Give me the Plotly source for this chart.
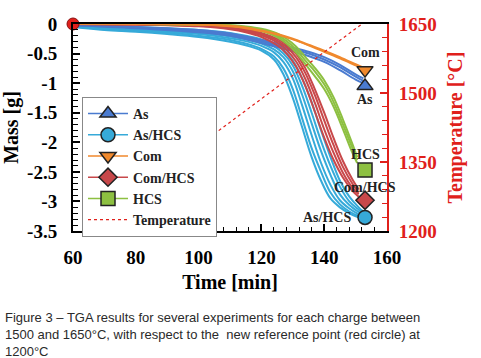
import plotly.graph_objects as go

# ---------------- data ----------------
groups = ["As", "As/HCS", "Com", "Com/HCS", "HCS"]
colors = {"As": "#4a7bd0", "As/HCS": "#36aad9", "Com": "#f0892d",
          "Com/HCS": "#c8484a", "HCS": "#8dc041"}
symbols = {"As": "triangle-up", "As/HCS": "circle", "Com": "triangle-down",
           "Com/HCS": "diamond", "HCS": "square"}

# As/HCS experiments
t_ashcs = [60, 70, 80, 90, 100, 110, 115, 120, 124, 127, 130, 133, 136, 139, 142, 145, 148, 151, 152.5]
ashcs_runs = [
    [-0.05, -0.10, -0.13, -0.17, -0.22, -0.30, -0.36, -0.45, -0.60, -0.85, -1.25, -1.75, -2.25, -2.65, -2.95, -3.10, -3.20, -3.27, -3.30],
    [-0.04, -0.09, -0.12, -0.15, -0.20, -0.27, -0.33, -0.42, -0.55, -0.75, -1.10, -1.60, -2.10, -2.50, -2.85, -3.05, -3.17, -3.25, -3.28],
    [-0.03, -0.07, -0.10, -0.13, -0.17, -0.24, -0.29, -0.37, -0.48, -0.64, -0.92, -1.38, -1.88, -2.35, -2.72, -2.98, -3.12, -3.22, -3.26],
    [-0.02, -0.05, -0.08, -0.11, -0.15, -0.21, -0.26, -0.33, -0.43, -0.56, -0.80, -1.20, -1.68, -2.15, -2.55, -2.88, -3.06, -3.18, -3.23],
    [-0.02, -0.04, -0.06, -0.09, -0.12, -0.18, -0.23, -0.30, -0.38, -0.50, -0.70, -1.05, -1.50, -1.98, -2.40, -2.75, -3.00, -3.14, -3.20],
    [-0.01, -0.03, -0.05, -0.07, -0.10, -0.15, -0.20, -0.26, -0.34, -0.44, -0.62, -0.92, -1.32, -1.80, -2.25, -2.65, -2.92, -3.10, -3.17],
]

# As experiments
t_as = [60, 80, 100, 110, 120, 125, 130, 135, 140, 145, 150, 152.5]
as_runs = [
    [-0.02, -0.07, -0.14, -0.20, -0.32, -0.39, -0.46, -0.54, -0.64, -0.78, -0.94, -1.00],
    [-0.02, -0.06, -0.12, -0.18, -0.29, -0.36, -0.43, -0.50, -0.60, -0.73, -0.89, -0.96],
    [-0.01, -0.05, -0.10, -0.16, -0.27, -0.33, -0.40, -0.47, -0.56, -0.69, -0.85, -0.92],
]

# Com/HCS experiments
t_comhcs = [60, 80, 100, 110, 115, 120, 125, 128, 131, 134, 137, 140, 143, 146, 149, 151]
comhcs_runs = [
    [0, -0.01, -0.04, -0.09, -0.14, -0.22, -0.36, -0.50, -0.72, -1.05, -1.48, -1.92, -2.30, -2.60, -2.82, -2.92],
    [0, -0.01, -0.03, -0.07, -0.12, -0.19, -0.31, -0.44, -0.63, -0.93, -1.33, -1.78, -2.18, -2.52, -2.77, -2.88],
    [0, -0.01, -0.03, -0.06, -0.10, -0.17, -0.28, -0.39, -0.56, -0.83, -1.20, -1.63, -2.05, -2.42, -2.70, -2.85],
    [0, 0.00, -0.02, -0.05, -0.09, -0.15, -0.25, -0.35, -0.50, -0.75, -1.10, -1.50, -1.93, -2.32, -2.63, -2.80],
]

# HCS experiments
t_hcs = [60, 80, 100, 110, 115, 120, 125, 128, 131, 134, 137, 140, 143, 146, 149, 150.5]
hcs_runs = [
    [0, 0, -0.01, -0.03, -0.06, -0.12, -0.22, -0.33, -0.48, -0.68, -0.88, -1.10, -1.40, -1.78, -2.18, -2.35],
    [0, 0, -0.01, -0.02, -0.05, -0.10, -0.19, -0.29, -0.43, -0.62, -0.80, -1.02, -1.32, -1.70, -2.10, -2.30],
    [0, 0, 0.00, -0.02, -0.04, -0.08, -0.16, -0.25, -0.38, -0.56, -0.74, -0.95, -1.24, -1.62, -2.03, -2.25],
]

# Com experiments
t_com = [60, 90, 100, 110, 115, 120, 125, 130, 135, 140, 145, 150, 152.5]
com_runs = [
    [0, 0, -0.01, -0.04, -0.07, -0.12, -0.18, -0.26, -0.36, -0.47, -0.58, -0.70, -0.76],
    [0, 0, -0.01, -0.03, -0.06, -0.11, -0.17, -0.25, -0.35, -0.45, -0.56, -0.68, -0.74],
]

# end markers (time, mass)
end_time = [153, 153, 153, 153, 153]
end_mass = {"As": -1.05, "As/HCS": -3.27, "Com": -0.78, "Com/HCS": -2.98, "HCS": -2.47}

# temperature programme
temp_time = [63.5, 152.0]
temp_vals = [1200, 1650]

# reference point
ref_time = [60]
ref_mass = [0]

# axis ticks
x_ticks = [60, 80, 100, 120, 140, 160]
y_ticks = [0, -0.5, -1, -1.5, -2, -2.5, -3, -3.5]
y_ticktext = ["0", "-0.5", "-1", "-1.5", "-2", "-2.5", "-3", "-3.5"]
t_ticks = [1200, 1350, 1500, 1650]

# labels next to end markers: (text, time, mass)
end_labels = [("Com", 153, -0.49), ("As", 153, -1.28), ("HCS", 153, -2.21),
              ("Com/HCS", 153, -2.77), ("As/HCS", 141, -3.28)]

caption = ["Figure 3 – TGA results for several experiments for each charge between",
           "1500 and 1650°C, with respect to the  new reference point (red circle) at",
           "1200°C"]

# ---------------- figure ----------------
SERIF = "Liberation Serif"
fig = go.Figure()

def add_runs(tlist, runs, name):
    for r in runs:
        fig.add_trace(go.Scatter(x=tlist, y=r, mode="lines", showlegend=False,
                                 line=dict(color=colors[name], width=2, shape="spline"),
                                 hoverinfo="skip"))

add_runs(t_ashcs, ashcs_runs, "As/HCS")
add_runs(t_as, as_runs, "As")
add_runs(t_comhcs, comhcs_runs, "Com/HCS")
add_runs(t_hcs, hcs_runs, "HCS")
add_runs(t_com, com_runs, "Com")

# end markers
for i, g in enumerate(groups):
    fig.add_trace(go.Scatter(x=[end_time[i]], y=[end_mass[g]], mode="markers", showlegend=False,
                             cliponaxis=False,
                             marker=dict(symbol=symbols[g], size=14, color=colors[g],
                                         line=dict(color="#222222", width=1.5))))

# legend entries
for g in groups:
    fig.add_trace(go.Scatter(x=[None], y=[None], mode="lines+markers", name=g,
                             line=dict(color=colors[g], width=1.5),
                             marker=dict(symbol=symbols[g], size=14, color=colors[g],
                                         line=dict(color="#222222", width=1.5))))

# temperature
fig.add_trace(go.Scatter(x=temp_time, y=temp_vals, yaxis="y2", mode="lines", name="Temperature",
                         line=dict(color="#e0201b", width=1.2, dash="dot")))

# reference point
fig.add_trace(go.Scatter(x=ref_time, y=ref_mass, mode="markers", showlegend=False, cliponaxis=False,
                         marker=dict(symbol="circle", size=12, color="#e0201b",
                                     line=dict(color="#8a0f0f", width=1))))

for txt, tx, my in end_labels:
    fig.add_annotation(x=tx, y=my, text=txt, showarrow=False,
                       font=dict(family=SERIF, size=14, color="#222222", weight="bold"))

L, R, T, B = 73, 94, 24, 127
pw, ph = 481 - L - R, 358 - T - B
cap_y = [317, 334, 351]
for line, py in zip(caption, cap_y):
    fig.add_annotation(xref="paper", yref="paper", x=(3 - L) / pw, y=(358 - B - py) / ph,
                       xanchor="left", yanchor="middle", text=line, showarrow=False,
                       font=dict(family="Liberation Sans", size=13, color="#2a2a2a"))

fig.update_layout(
    width=481, height=358,
    margin=dict(l=L, r=R, t=T, b=B, autoexpand=False),
    paper_bgcolor="white", plot_bgcolor="white",
    font=dict(family=SERIF, color="black"),
    xaxis=dict(range=[60, 160], tickvals=x_ticks, showgrid=False, zeroline=False, automargin=False,
               showline=True, linecolor="black", linewidth=2, mirror=True,
               ticks="inside", ticklen=7, tickwidth=1.5, tickcolor="black",
               minor=dict(dtick=4, ticks="inside", ticklen=4, tickwidth=1.2, tickcolor="black"),
               tickfont=dict(family=SERIF, size=19, weight="bold"),
               ticklabelstandoff=8,
               title=dict(text="Time [min]", font=dict(family=SERIF, size=20, weight="bold"), standoff=8)),
    yaxis=dict(range=[-3.5, 0], tickvals=y_ticks, ticktext=y_ticktext, showgrid=False, zeroline=False,
               automargin=False,
               showline=True, linecolor="black", linewidth=2,
               ticks="inside", ticklen=7, tickwidth=1.5, tickcolor="black",
               minor=dict(dtick=0.1, ticks="inside", ticklen=5, tickwidth=1.2, tickcolor="black"),
               tickfont=dict(family=SERIF, size=19, weight="bold"),
               ticklabelstandoff=10,
               title=dict(text="Mass [g]", font=dict(family=SERIF, size=20, weight="bold"), standoff=6)),
    yaxis2=dict(range=[1200, 1650], tickvals=t_ticks, overlaying="y", side="right", showgrid=False,
                zeroline=False, showline=True, linecolor="#e0201b", linewidth=2, automargin=False,
                ticks="inside", ticklen=7, tickwidth=1.5, tickcolor="#e0201b",
                minor=dict(dtick=30, ticks="inside", ticklen=5, tickwidth=1.2, tickcolor="#e0201b"),
                tickfont=dict(family=SERIF, size=19, weight="bold", color="#e0201b"),
                ticklabelstandoff=6,
                title=dict(text="Temperature [°C]", font=dict(family=SERIF, size=20, weight="bold", color="#e0201b"), standoff=12)),
    legend=dict(x=(82 - L) / pw, y=(358 - B - 97) / ph, xanchor="left", yanchor="top",
                bgcolor="white", bordercolor="#888888", borderwidth=1,
                font=dict(family=SERIF, size=14, color="#222222", weight="bold"),
                tracegroupgap=0, itemwidth=40),
)

fig.write_html("out.html", config={"displayModeBar": False},
               post_script="document.body.style.margin='0';document.body.style.overflow='hidden';")
